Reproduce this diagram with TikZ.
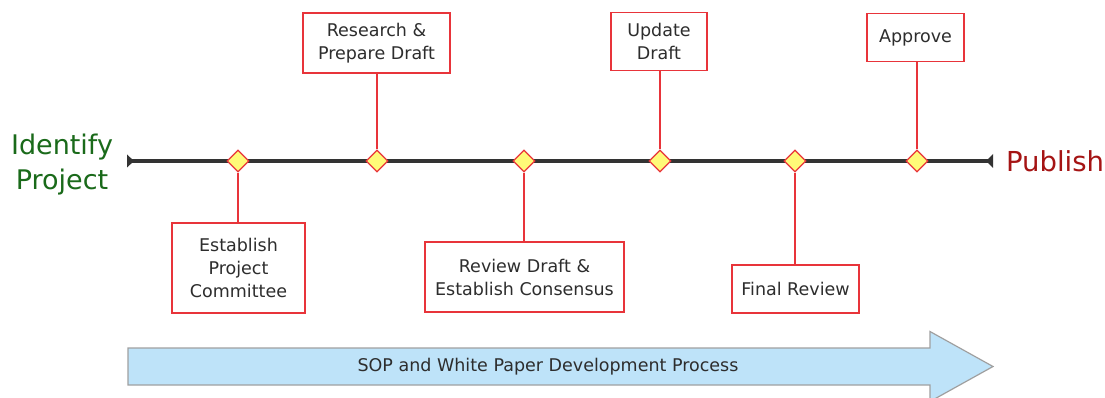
\documentclass[tikz,border=0pt]{standalone}
\usepackage{fontspec}
\setmainfont{DejaVu Sans}
\usetikzlibrary{shapes.geometric}
\definecolor{boxred}{RGB}{232,52,58}
\definecolor{txtgray}{RGB}{45,45,45}
\definecolor{tlgray}{RGB}{51,51,51}
\definecolor{dfill}{RGB}{255,250,120}
\definecolor{idgreen}{RGB}{26,106,26}
\definecolor{pubred}{RGB}{165,20,20}
\definecolor{arrfill}{RGB}{190,227,249}
\definecolor{arrdraw}{RGB}{160,160,160}
\tikzset{
  stepbox/.style={draw=boxred, line width=1.3pt, fill=white, text=txtgray, align=center,
    inner sep=0pt, font=\fontsize{17.5}{23}\selectfont},
  milestone/.style={diamond, aspect=1, draw=boxred, line width=1.2pt, fill=dfill,
    minimum size=22pt, inner sep=0pt},
  conn/.style={draw=boxred, line width=1.2pt},
  timeline/.style={draw=tlgray, line width=4pt},
  endtip/.style={fill=tlgray},
}
\begin{document}
\begin{tikzpicture}[x=1pt,y=-1pt]
\useasboundingbox (0,0) rectangle (1105,398);
% timeline
\coordinate (tl) at (127,161);
\coordinate (tr) at (993,161);
\draw[timeline] (tl) -- (tr);
\fill[endtip] (tl) ++(0,-6.5) -- ++(0,13) -- ++(7,-6.5) -- cycle;
\fill[endtip] (tr) ++(0,-7) -- ++(0,14) -- ++(-7,-7) -- cycle;
% end labels
\node[text=idgreen, align=center, font=\fontsize{27}{35}\selectfont] (ident) at (62,165) {Identify\\Project};
\node[text=pubred, font=\fontsize{27.5}{34}\selectfont] (pub) at (1055,161.5) {Publish};
% boxes
\node[stepbox, minimum width=133pt, minimum height=90pt] (b1) at (238.5,268) {Establish\\Project\\Committee};
\node[stepbox, minimum width=147pt, minimum height=60pt] (b2) at (376.5,43) {Research \&\\Prepare Draft};
\node[stepbox, minimum width=199pt, minimum height=70pt] (b3) at (524.5,277) {Review Draft \&\\Establish Consensus};
\node[stepbox, minimum width=96pt, minimum height=58pt] (b4) at (659,41.5) {Update\\Draft};
\node[stepbox, minimum width=127pt, minimum height=48pt] (b5) at (795.5,289) {Final Review};
\node[stepbox, minimum width=97pt, minimum height=48pt] (b6) at (915.5,37.5) {Approve};
% diamonds
\node[milestone] (d1) at (238,161) {};
\node[milestone] (d2) at (377,161) {};
\node[milestone] (d3) at (524,161) {};
\node[milestone] (d4) at (660,161) {};
\node[milestone] (d5) at (795,161) {};
\node[milestone] (d6) at (917,161) {};
% connectors
\draw[conn] (d1.south) -- (d1.south |- b1.north);
\draw[conn] (d2.north) -- (d2.north |- b2.south);
\draw[conn] (d3.south) -- (d3.south |- b3.north);
\draw[conn] (d4.north) -- (d4.north |- b4.south);
\draw[conn] (d5.south) -- (d5.south |- b5.north);
\draw[conn] (d6.north) -- (d6.north |- b6.south);
% process arrow
\draw[fill=arrfill, draw=arrdraw, line width=1.2pt]
  (128,348) -- (930,348) -- (930,331.5) -- (993,366.5) -- (930,401.5) -- (930,385) -- (128,385) -- cycle;
\node[text=txtgray, font=\fontsize{17.5}{21}\selectfont] (proc) at (548,367) {SOP and White Paper Development Process};
\end{tikzpicture}
\end{document}
